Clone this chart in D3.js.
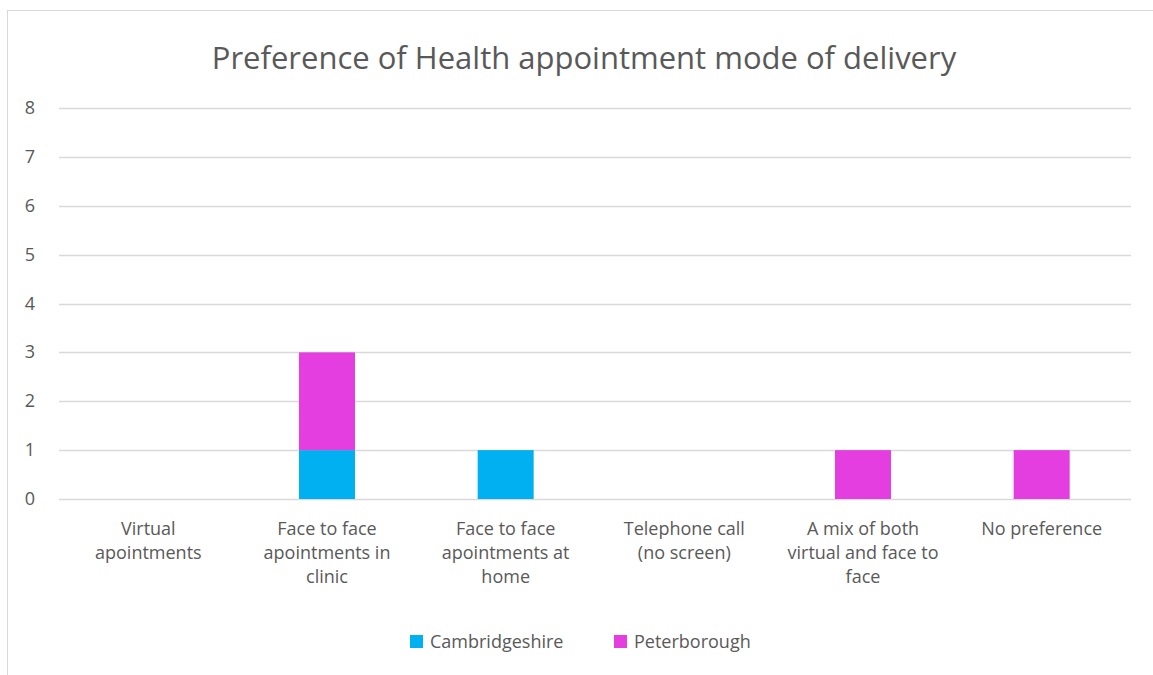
<!DOCTYPE html>
<html>
<head>
<meta charset="utf-8">
<script src="https://cdn.jsdelivr.net/npm/d3@7"></script>
<style>
  body { margin: 0; background: #fff; }
  svg { font-family: "Open Sans", "Liberation Sans", Arial, sans-serif; }
</style>
</head>
<body>
<svg width="1153" height="675"></svg>
<script>
// data
const categories = [
  ["Virtual", "apointments"],
  ["Face to face", "apointments in", "clinic"],
  ["Face to face", "apointments at", "home"],
  ["Telephone call", "(no screen)"],
  ["A mix of both", "virtual and face to", "face"],
  ["No preference"]
];
const seriesNames = ["Cambridgeshire", "Peterborough"];
const cambridgeshire = [0, 1, 1, 0, 0, 0];
const peterborough = [0, 2, 0, 0, 1, 1];
const yTicks = [0, 1, 2, 3, 4, 5, 6, 7, 8];

const COLORS = ["#00B0F0", "#E43EE0"];
const TEXT = "#595959";
const GRID = "#D9D9D9";

const svg = d3.select("svg");

// chart border
svg.append("rect")
  .attr("x", 7.5).attr("y", 10.5)
  .attr("width", 1160).attr("height", 700)
  .attr("fill", "none")
  .attr("stroke", "#D9D9D9");

const margin = { left: 59, right: 22, top: 108, bottom: 176 };
const plotW = 1153 - margin.left - margin.right;
const plotH = 675 - margin.top - margin.bottom;

const keys = categories.map((c, i) => i);
const x = d3.scaleBand().domain(keys).range([margin.left, margin.left + plotW]).paddingInner(0).paddingOuter(0);
const y = d3.scaleLinear().domain([0, 8]).range([margin.top + plotH, margin.top]);

// title
svg.append("text")
  .attr("x", 584).attr("y", 69)
  .attr("text-anchor", "middle")
  .attr("font-size", 31)
  .attr("fill", TEXT)
  .text("Preference of Health appointment mode of delivery");

// gridlines
svg.append("g")
  .selectAll("line")
  .data(yTicks)
  .join("line")
  .attr("x1", margin.left).attr("x2", margin.left + plotW)
  .attr("y1", d => Math.round(y(d)) + 0.5)
  .attr("y2", d => Math.round(y(d)) + 0.5)
  .attr("stroke", GRID).attr("stroke-width", 1.3);

// y labels
svg.append("g")
  .selectAll("text")
  .data(yTicks)
  .join("text")
  .attr("x", 30).attr("y", d => y(d) + 6)
  .attr("text-anchor", "middle")
  .attr("font-size", 18)
  .attr("fill", TEXT)
  .text(d => d);

// stacked bars
const rows = keys.map(i => ({ i, Cambridgeshire: cambridgeshire[i], Peterborough: peterborough[i] }));
const stacked = d3.stack().keys(seriesNames)(rows);
const barW = 56;

svg.append("g")
  .selectAll("g")
  .data(stacked)
  .join("g")
  .attr("fill", (d, k) => COLORS[k])
  .selectAll("rect")
  .data(d => d.filter(v => v[1] - v[0] > 0))
  .join("rect")
  .attr("x", d => x(d.data.i) + x.bandwidth() / 2 - barW / 2)
  .attr("width", barW)
  .attr("y", d => y(d[1]))
  .attr("height", d => y(d[0]) - y(d[1]));

// x labels
const xl = svg.append("g")
  .selectAll("text")
  .data(keys)
  .join("text")
  .attr("x", d => x(d) + x.bandwidth() / 2)
  .attr("y", 535)
  .attr("text-anchor", "middle")
  .attr("font-size", 18)
  .attr("fill", TEXT);
xl.selectAll("tspan")
  .data(d => categories[d])
  .join("tspan")
  .attr("x", function () { return this.parentNode.getAttribute("x"); })
  .attr("dy", (d, j) => j === 0 ? 0 : 24)
  .text(d => d);

// legend
const legendX = [410, 614];
const lg = svg.append("g")
  .selectAll("g")
  .data(seriesNames)
  .join("g")
  .attr("transform", (d, k) => `translate(${legendX[k]},635)`);
lg.append("rect")
  .attr("width", 13).attr("height", 13)
  .attr("fill", (d, k) => COLORS[k]);
lg.append("text")
  .attr("x", 20).attr("y", 13)
  .attr("font-size", 18)
  .attr("fill", TEXT)
  .text(d => d);
</script>
</body>
</html>
